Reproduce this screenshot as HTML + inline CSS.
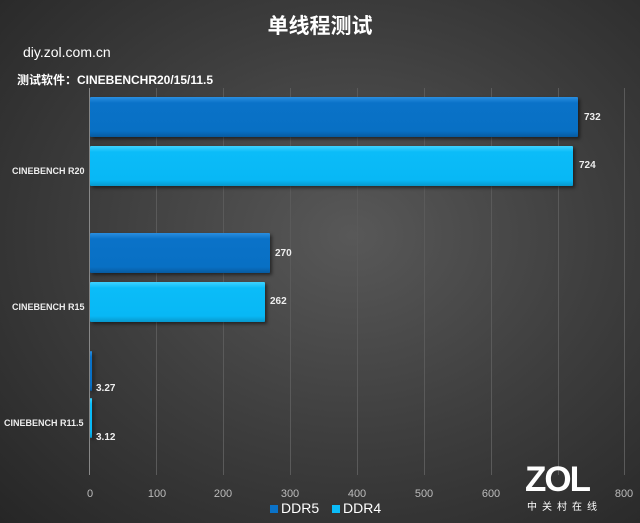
<!DOCTYPE html>
<html><head><meta charset="utf-8"><style>
body{margin:0;width:640px;height:523px;overflow:hidden;background:radial-gradient(ellipse at 55% 45%,#585858 0%,#3e3e3e 50%,#262626 100%);font-family:"Liberation Sans","Noto Sans CJK SC",sans-serif;color:#fff;position:relative}
.t{position:absolute;white-space:nowrap}
.g{position:absolute;top:88px;height:387px;width:1px;background:#5a5a5a}
.b{position:absolute;left:90px;height:40px;border-radius:1px;box-shadow:2px 2px 3px rgba(0,0,0,.5)}
.d5{background:linear-gradient(#2a8ee0,#0a72c8 15%,#0870c4 85%,#075aa0)}
.d4{background:linear-gradient(#3fd2ff,#0bbcf8 15%,#08b8f5 85%,#0898cc)}
.v{position:absolute;font-size:10px;font-weight:bold;color:#eee}
.c{position:absolute;font-size:9px;font-weight:bold;color:#eee}
.x{position:absolute;top:488px;font-size:11px;color:#bbb;transform:translateX(-50%)}
</style></head><body>
<div class="t" style="left:0;width:640px;text-align:center;top:10px;font-size:21px;font-weight:bold">单线程测试</div>
<div class="t" style="left:23px;top:44px;font-size:14px">diy.zol.com.cn</div>
<div class="t" style="left:17px;top:71px;font-size:12px;font-weight:bold">测试软件：CINEBENCHR20/15/11.5</div>
<div class="g" style="left:156px"></div><div class="g" style="left:223px"></div><div class="g" style="left:290px"></div><div class="g" style="left:357px"></div><div class="g" style="left:424px"></div><div class="g" style="left:491px"></div><div class="g" style="left:558px"></div><div class="g" style="left:624px"></div>
<div style="position:absolute;left:89px;top:88px;width:1px;height:387px;background:#888"></div>
<div class="b d5" style="top:97px;width:488px"></div>
<div class="b d4" style="top:146px;width:483px"></div>
<div class="b d5" style="top:233px;width:180px"></div>
<div class="b d4" style="top:282px;width:175px"></div>
<div class="b d5" style="top:351px;width:2px"></div>
<div class="b d4" style="top:398px;width:2px"></div>
<div class="v" style="left:584px;top:112px">732</div>
<div class="v" style="left:579px;top:160px">724</div>
<div class="v" style="left:275px;top:248px">270</div>
<div class="v" style="left:270px;top:296px">262</div>
<div class="v" style="left:96px;top:383px">3.27</div>
<div class="v" style="left:96px;top:432px">3.12</div>
<div class="c" style="left:12px;top:166px">CINEBENCH R20</div>
<div class="c" style="left:12px;top:302px">CINEBENCH R15</div>
<div class="c" style="left:4px;top:418px">CINEBENCH R11.5</div>
<div class="x" style="left:90px">0</div><div class="x" style="left:157px">100</div><div class="x" style="left:223px">200</div><div class="x" style="left:290px">300</div><div class="x" style="left:357px">400</div><div class="x" style="left:424px">500</div><div class="x" style="left:491px">600</div><div class="x" style="left:624px">800</div>
<div style="position:absolute;left:270px;top:505px;width:8px;height:8px;background:#0a72c8"></div>
<div class="t" style="left:281px;top:500px;font-size:14px">DDR5</div>
<div style="position:absolute;left:332px;top:505px;width:8px;height:8px;background:#0bbcf8"></div>
<div class="t" style="left:343px;top:500px;font-size:14px">DDR4</div>
<div class="t" style="left:525px;top:462px;font-size:35px;font-weight:bold;letter-spacing:-2px;line-height:35px">ZOL</div>
<div class="t" style="left:527px;top:498px;font-size:10px;letter-spacing:5px">中关村在线</div>
</body></html>
